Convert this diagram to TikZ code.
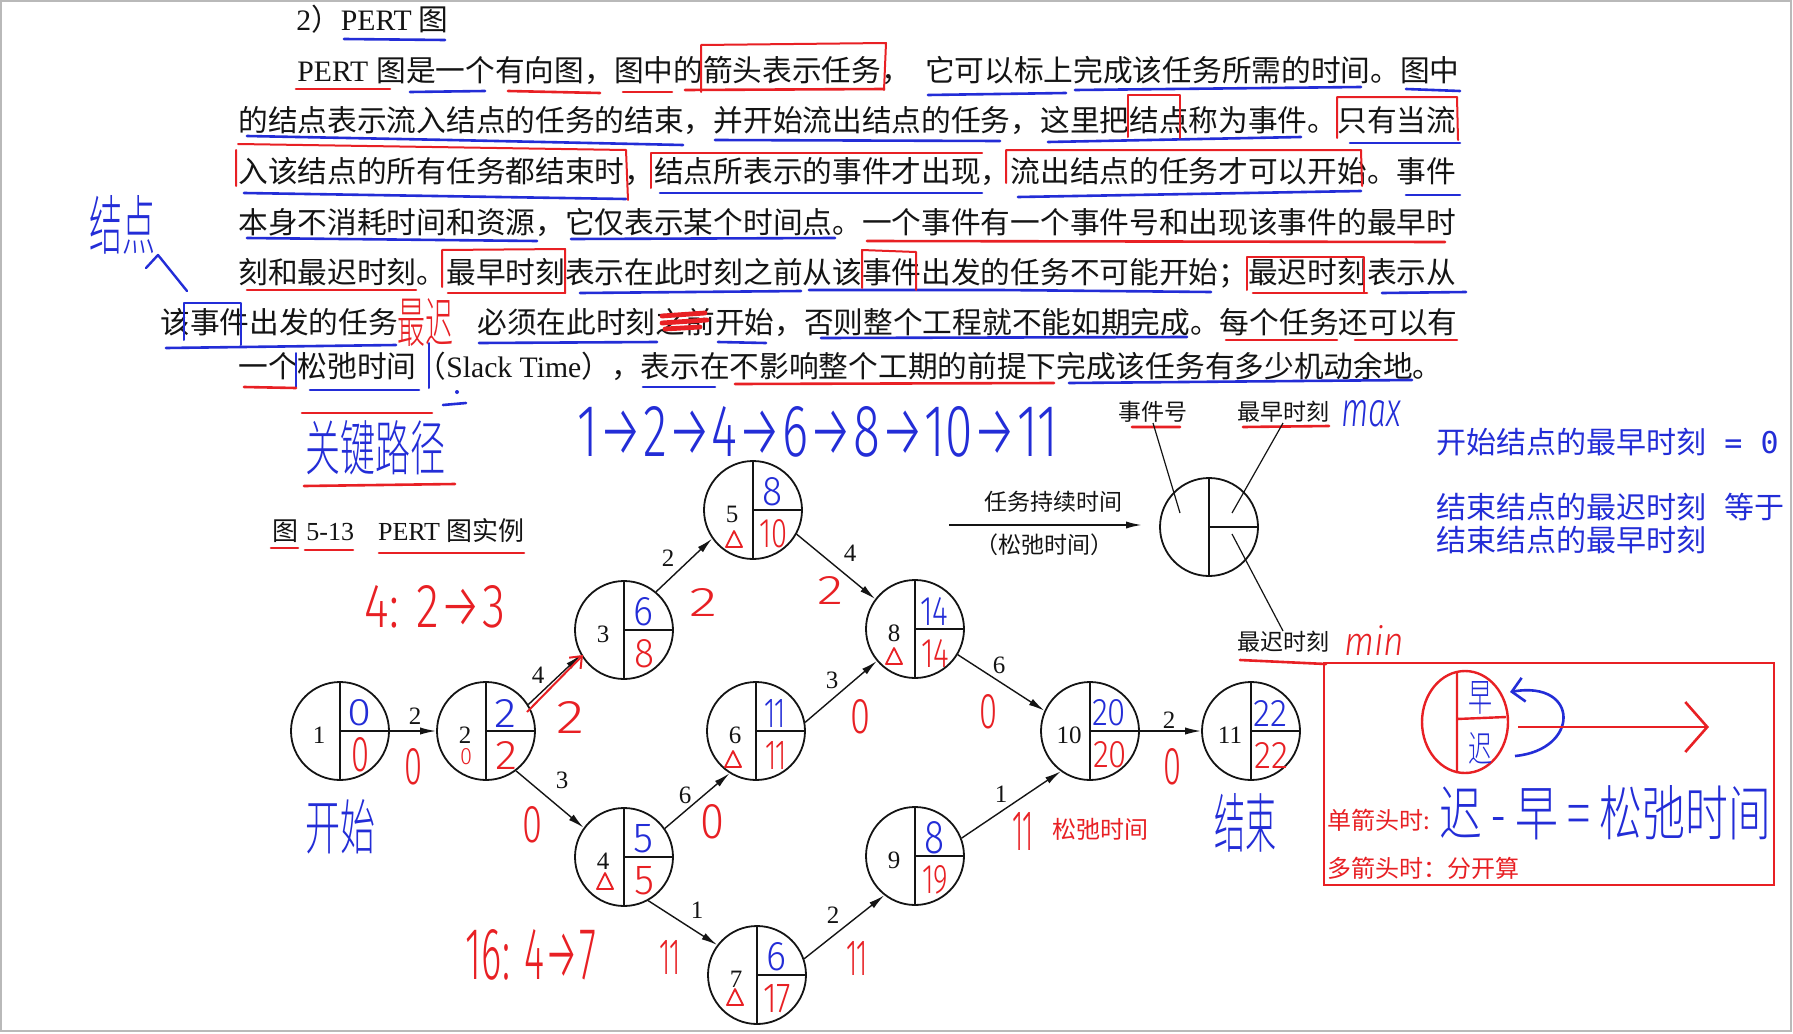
\documentclass[tikz,border=0pt]{standalone}
\usepackage{fontspec}
\usepackage{graphicx}
\setmainfont{Noto Sans CJK SC}
\newfontfamily\latf{Liberation Serif}
\IfFontExistsTF{Fira Sans Light}{\newfontfamily\hwf{Fira Sans Light}}{%
  \IfFontExistsTF{Lato Light}{\newfontfamily\hwf{Lato Light}}{\newfontfamily\hwf{Liberation Sans}}}
\IfFontExistsTF{Noto Sans CJK SC Light}{\newfontfamily\hwc{Noto Sans CJK SC Light}}{\newfontfamily\hwc{Noto Sans CJK SC}}
\newfontfamily\monof{DejaVu Sans Mono}
\usetikzlibrary{arrows.meta}
\definecolor{hb}{RGB}{35,45,215}
\definecolor{hr}{RGB}{232,32,36}
\definecolor{ink}{RGB}{20,20,20}
\newcommand\RB[3]{\resizebox{#1}{#2}{\hwc #3}}
\newcommand\HW[3]{\resizebox{#1}{#2}{\hwf #3}}
\newcommand\PN[6]{%
  \node[pn] (#1) at (#2,#3) {};
  \draw[pl] (#1.north) -- (#1.south) (#1.center) -- (#1.east);
  \node[nid] (#1id) at (#2-21,#3+4) {#4};
  \node[inner sep=0,text=hb] (#1e) at (#2+19,#3-18) {#5};
  \node[inner sep=0,text=hr] (#1l) at (#2+20,#3+24) {#6};
}
\newcommand\TRI[2]{\draw[hr,line width=0.9pt,line join=round] (#1-8,#2+7) -- (#1+8,#2+7) -- (#1,#2-9) -- cycle;}
\begin{document}
\begin{tikzpicture}[x=0.5pt,y=-0.5pt,
  T/.style={anchor=base west,inner sep=0,text=ink,font=\fontsize{14.85pt}{16pt}\selectfont},
  TE/.style={T,anchor=base east},
  ul/.style={line width=1.3pt,line cap=round,line join=round},
  ulr/.style={ul,draw=hr}, ulb/.style={ul,draw=hb},
  bx/.style={line width=1pt,line cap=round,line join=round},
  bxr/.style={bx,draw=hr}, bxb/.style={bx,draw=hb},
  pn/.style={circle,draw=ink,line width=0.9pt,minimum size=49pt,inner sep=0},
  pl/.style={draw=ink,line width=0.9pt},
  nid/.style={inner sep=0,text=ink,font=\latf\fontsize{12.5pt}{12pt}\selectfont},
  arr/.style={draw=ink,line width=0.7pt,-{Latex[length=8pt,width=3.6pt]}},
  hwb/.style={inner sep=0,text=hb},
  hwr/.style={inner sep=0,text=hr},
  captxt/.style={inner sep=0,text=ink,font=\fontsize{11.5pt}{12pt}\selectfont},
  btx/.style={anchor=base west,inner sep=0,text=hb,font=\fontsize{15pt}{16pt}\selectfont},
  rtx/.style={anchor=base west,inner sep=0,text=hr,font=\fontsize{12pt}{13pt}\selectfont},
]
\useasboundingbox (0,0) rectangle (1793,1033);
\fill[white] (0,0) rectangle (1793,1033);
\draw[gray!55,line width=1pt] (1,1) rectangle (1791,1031);

% ---------------- printed text ----------------
\node[T] (title) at (296,31) {{\latf 2}）{\latf PERT} 图};
\node[T] (l1a) at (297,81) {{\latf PERT}};
\node[T] (l1b) at (376,81) {图是一个有向图，图中的箭头表示任务，};
\node[TE] (l1c) at (1460,81) {它可以标上完成该任务所需的时间。图中};
\node[T] (l2) at (238,131) {的结点表示流入结点的任务的结束，并开始流出结点的任务，这里把结点称为事件。只有当流};
\node[T] (l3) at (238,182) {入该结点的所有任务都结束时，结点所表示的事件才出现，流出结点的任务才可以开始。事件};
\node[T] (l4) at (238,233) {本身不消耗时间和资源，它仅表示某个时间点。一个事件有一个事件号和出现该事件的最早时};
\node[T] (l5) at (238,283) {刻和最迟时刻。最早时刻表示在此时刻之前从该事件出发的任务不可能开始；最迟时刻表示从};
\node[T] (l6a) at (160,333) {该事件出发的任务};
\node[T] (l6b) at (477,333) {必须在此时刻之前开始，否则整个工程就不能如期完成。每个任务还可以有};
\node[T] (l7) at (238,377) {一个松弛时间（{\latf Slack Time}），表示在不影响整个工期的前提下完成该任务有多少机动余地。};

% ---------------- blue underlines ----------------
\draw[ulb] (344,39)--(445,40);
\draw[ulb] (410,92)--(485,91);
\draw[ulb] (928,95)--(1066,93);
\draw[ulb] (1075,90)--(1361,87);
\draw[ulb] (1406,89)--(1460,91);
\draw[ulb] (247,136)--(450,140)--(683,145);
\draw[ulb] (715,140)--(1000,141);
\draw[ulb] (1048,142)--(1301,137);
\draw[ulb] (1350,143)--(1460,143);
\draw[ulb] (244,193)--(626,199);
\draw[ulb] (660,193)--(982,193);
\draw[ulb] (1018,197)--(1361,191);
\draw[ulb] (1406,195)--(1460,195);
\draw[ulb] (247,238)--(537,241);
\draw[ulb] (571,239)--(835,238);
\draw[ulb] (580,293)--(801,291);
\draw[ulb] (809,290)--(1000,290)--(1211,292);
\draw[ulb] (1382,293)--(1466,292);
\draw[ulb] (166,348)--(396,345);
\draw[ulb] (479,343)--(657,342);
\draw[ulb] (718,342)--(766,343);
\draw[ulb] (821,338)--(1187,337);
\draw[ulb] (310,390)--(419,390);
\draw[ulb] (643,387)--(715,387);
\draw[ulb] (1069,383)--(1412,380);
\draw[ulb] (443,405)--(466,403);
\fill[hb] (457,392) circle[radius=1pt];
\draw[bxb] (184,340)--(184,303)--(241,303)--(241,345);
\draw[bxb] (296,353)--(296,387) (429,343)--(429,388);

% ---------------- red underlines and boxes ----------------
\draw[ulr] (296,89)--(390,89);
\draw[ulr] (508,91)--(600,93);
\draw[ulr] (623,92)--(672,92);
\draw[ulr] (685,90)--(884,89);
\draw[ulr] (867,241)--(1445,242);
\draw[ulr] (247,290)--(416,290);
\draw[ulr] (448,293)--(565,293);
\draw[ulr] (1253,293)--(1367,293);
\draw[ulr] (1226,340)--(1337,340);
\draw[ulr] (1355,340)--(1457,340);
\draw[ulr] (244,387)--(296,388);
\draw[ulr] (735,384)--(1054,383);
\draw[ulr] (302,413)--(432,413);
\draw[ulr] (304,486)--(455,484);
\draw[ulr] (271,548)--(298,548) (305,550)--(353,550) (379,553)--(524,553);
\draw[ulr] (1132,427)--(1180,427) (1243,427)--(1329,426);
\draw[ulr] (1240,660)--(1326,664);
\draw[bxr] (701,92)--(701,45)--(886,43)--(884,90);
\draw[bxr] (1128,137)--(1128,95)--(1180,95)--(1180,138);
\draw[bxr] (1337,138)--(1337,97)--(1457,97)--(1458,140);
\draw[bxr] (236,186)--(236,150) (238,144)--(626,150)--(628,200);
\draw[bxr] (651,188)--(651,153)--(982,153);
\draw[bxr] (1006,183)--(1006,150)--(1361,150)--(1362,186);
\draw[bxr] (442,287)--(442,250)--(565,249)--(565,293);
\draw[bxr] (862,288)--(862,250)--(916,252)--(916,290);
\draw[bxr] (1247,290)--(1247,257)--(1364,257)--(1364,293);
\draw[hr,line width=2.4pt,line cap=round] (662,316)--(705,313) (662,323)--(707,320) (665,329)--(700,327);

% ---------------- handwriting ----------------
\node[hwb] (hjd) at (122,225) {\RB{33pt}{27pt}{结点}};
\draw[hb,line width=1.2pt,line cap=round,line join=round] (146,268) -- (158,255) -- (187,291);
\node[hwr] (hzc) at (425,322) {\RB{28pt}{22pt}{最迟}};
\node[hwb] (hgj) at (375,448) {\RB{70pt}{25pt}{关键路径}};
\node[hwb] (hpath) at (818,432) {\HW{240pt}{25pt}{1→2→4→6→8→10→11}};
\node[hwb] (hmax) at (1371,414) {\resizebox{30pt}{13pt}{\hwf\itshape max}};
\node[hwr] (hmin) at (1374,640) {\resizebox{30pt}{15pt}{\hwf\itshape min}};
\node[hwr] (h423) at (435,607) {\HW{70pt}{21pt}{4: 2→3}};
\node[hwr] (h1647) at (531,955) {\HW{65pt}{25pt}{16: 4→7}};
\node[hwb] (hks) at (340,827) {\RB{35pt}{25pt}{开始}};
\node[hwb] (hjs) at (1245,823) {\RB{31pt}{27pt}{结束}};
\node[hwr] (h11s) at (1023,831) {\HW{11pt}{19pt}{11}};
\node[hwr,font=\fontsize{12pt}{13pt}\selectfont] (hsc) at (1100,829) {松弛时间};

% ---------------- caption ----------------
\node[inner sep=0,text=ink,font=\fontsize{13pt}{14pt}\selectfont,anchor=base west] (figcap) at (272,540) {图\hspace{4pt}{\latf 5-13}\hspace{12pt}{\latf PERT}\hspace{3pt}图实例};

% ---------------- PERT nodes ----------------
\PN{n1}{340}{731}{1}{\HW{12pt}{13pt}{0}}{\HW{9pt}{17pt}{0}}
\PN{n2}{486}{731}{2}{\HW{11pt}{14pt}{2}}{\HW{11pt}{14pt}{2}}
\PN{n3}{624}{630}{3}{\HW{10pt}{14pt}{6}}{\HW{10pt}{14pt}{8}}
\PN{n4}{624}{857}{4}{\HW{10pt}{14pt}{5}}{\HW{10pt}{14pt}{5}}
\PN{n5}{753}{510}{5}{\HW{10pt}{14pt}{8}}{\HW{14pt}{14pt}{10}}
\PN{n6}{756}{731}{6}{\HW{11pt}{14pt}{11}}{\HW{11pt}{14pt}{11}}
\PN{n7}{757}{975}{7}{\HW{10pt}{14pt}{6}}{\HW{14pt}{14pt}{17}}
\PN{n8}{915}{629}{8}{\HW{14pt}{14pt}{14}}{\HW{14pt}{14pt}{14}}
\PN{n9}{915}{856}{9}{\HW{10pt}{16pt}{8}}{\HW{13pt}{14pt}{19}}
\PN{n10}{1090}{731}{10}{\HW{17pt}{13pt}{20}}{\HW{17pt}{13pt}{20}}
\PN{n11}{1251}{731}{11}{\HW{17pt}{13pt}{22}}{\HW{17pt}{13pt}{22}}
\node[hwr] (n2m) at (466,757) {\HW{6pt}{8pt}{0}};
\TRI{605}{882}
\TRI{734}{540}
\TRI{733}{760}
\TRI{735}{998}
\TRI{894}{657}

% ---------------- edges ----------------
\draw[arr] (n1) -- (n2);
\draw[arr] (n2.32) -- (n3.210);
\draw[arr] (n2.307) -- (n4.144);
\draw[arr] (n3.50) -- (n5.215);
\draw[arr] (n5.331) -- (n8.143);
\draw[arr] (n4.35) -- (n6.238);
\draw[arr] (n6.10) -- (n8.220);
\draw[arr] (n4.299) -- (n7.143);
\draw[arr] (n7.19) -- (n9.232);
\draw[arr] (n8.329) -- (n10.156);
\draw[arr] (n9.21) -- (n10.234);
\draw[arr] (n10) -- (n11);
\coordinate (ra1) at (527,712);
\coordinate (ra2) at (583,655);
\draw[hr,line width=1pt,-{Straight Barb[length=5pt,width=8pt]}] (ra1) -- (ra2);

\node[nid] (e12) at (415,716) {2};
\node[nid] (e23) at (538,675) {4};
\node[nid] (e24) at (562,780) {3};
\node[nid] (e35) at (668,558) {2};
\node[nid] (e58) at (850,553) {4};
\node[nid] (e46) at (685,795) {6};
\node[nid] (e68) at (832,680) {3};
\node[nid] (e47) at (697,910) {1};
\node[nid] (e79) at (833,915) {2};
\node[nid] (e810) at (999,665) {6};
\node[nid] (e910) at (1001,794) {1};
\node[nid] (e1011) at (1169,720) {2};

\node[hwr] (r12) at (413,767) {\HW{9pt}{18pt}{0}};
\node[hwr] (r23) at (570,717) {\HW{14pt}{16pt}{2}};
\node[hwr] (r24) at (532,825) {\HW{10pt}{18pt}{0}};
\node[hwr] (r35) at (703,602) {\HW{14pt}{14pt}{2}};
\node[hwr] (r58) at (830,590) {\HW{13pt}{14pt}{2}};
\node[hwr] (r46) at (712,822) {\HW{12pt}{17pt}{0}};
\node[hwr] (r68) at (860,717) {\HW{10pt}{17pt}{0}};
\node[hwr] (r47) at (670,957) {\HW{11pt}{17pt}{11}};
\node[hwr] (r79) at (857,958) {\HW{11pt}{17pt}{11}};
\node[hwr] (r810) at (988,712) {\HW{9pt}{17pt}{0}};
\node[hwr] (r1011) at (1172,767) {\HW{9pt}{18pt}{0}};

% ---------------- legend ----------------
\node[pn] (lg) at (1209,527) {};
\draw[pl] (lg.north) -- (lg.south) (lg.center) -- (lg.east);
\node[captxt] (lev) at (1153,412) {事件号};
\node[captxt] (lea) at (1283,412) {最早时刻};
\node[captxt] (lla) at (1283,642) {最迟时刻};
\coordinate (lp1) at (1180,513);
\coordinate (lp2) at (1232,513);
\coordinate (lp3) at (1232,534);
\draw[ink,line width=0.6pt] (lev.south) -- (lp1);
\draw[ink,line width=0.6pt] (lea.south) -- (lp2);
\draw[ink,line width=0.6pt] (lla.north) -- (lp3);
\coordinate (la1) at (949,525);
\coordinate (la2) at (1142,525);
\draw[arr,line width=0.9pt] (la1) -- (la2);
\node[captxt] (ldur) at (1053,502) {任务持续时间};
\node[captxt] (lsl) at (1044,545) {（松弛时间）};

% ---------------- blue typed notes ----------------
\node[btx] (b1) at (1436,453) {开始结点的最早时刻{\monof\ = 0}};
\node[btx] (b2) at (1436,518) {结束结点的最迟时刻\hspace{9pt}等于};
\node[btx] (b3) at (1436,551) {结束结点的最早时刻};

% ---------------- red box ----------------
\draw[hr,line width=0.8pt] (1324,663) rectangle (1774,885);
\draw[hr,line width=1.2pt] (1465,722) ellipse [x radius=21.5pt, y radius=25.5pt];
\draw[hr,line width=1.2pt] (1457,672) -- (1457,773) (1457,719) -- (1506,717);
\node[hwb] (hz) at (1480,698) {\RB{12pt}{15pt}{早}};
\node[hwb] (hc) at (1480,748) {\RB{12pt}{15pt}{迟}};
\coordinate (bc1) at (1515,756);
\coordinate (bc2) at (1510,692);
\draw[hb,line width=1.3pt,-{Straight Barb[length=6pt,width=12pt]}] (bc1) .. controls (1580,750) and (1580,680) .. (bc2);
\coordinate (rl1) at (1518,727);
\coordinate (rl2) at (1709,727);
\draw[hr,line width=1.3pt,-{Straight Barb[length=11pt,width=25pt]}] (rl1) -- (rl2);
\node[rtx] (s1) at (1327,829) {单箭头时:};
\node[hwb] (hformula) at (1605,813) {\RB{166pt}{25pt}{迟 - 早 = 松弛时间}};
\node[rtx] (s2) at (1327,877) {多箭头时：分开算};
\end{tikzpicture}
\end{document}
